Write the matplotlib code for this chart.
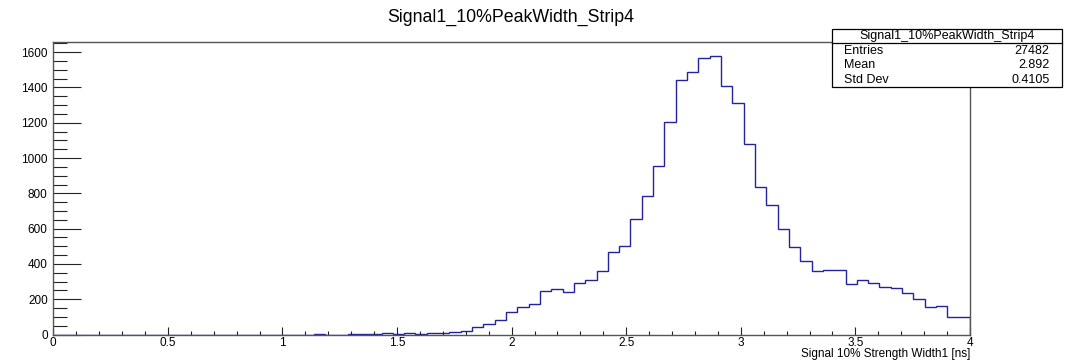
import numpy as np
import matplotlib
matplotlib.use("Agg")
import matplotlib.pyplot as plt
from matplotlib.patches import Rectangle
from matplotlib.lines import Line2D
from matplotlib.ticker import MultipleLocator

plt.rcParams['font.family'] = ['Liberation Sans', 'DejaVu Sans']

# Histogram definition: 81 bins on [0, 4]
n_bins = 81
x_min, x_max = 0.0, 4.0

# Bin contents (bins 0..80)
counts = [
    0, 0, 0, 0, 0, 0, 0, 0, 0, 0,
    0, 0, 0, 0, 0, 0, 0, 0, 0, 0,
    0, 0, 0, 3, 0, 0, 3, 3, 6, 7,
    3, 7, 5, 7, 9, 15, 21, 43, 62, 83,
    126, 158, 172, 245, 257, 243, 290, 309, 362, 470,
    501, 652, 784, 954, 1203, 1441, 1490, 1569, 1580, 1409,
    1309, 1082, 836, 732, 597, 499, 417, 360, 368, 365,
    287, 307, 292, 271, 262, 237, 200, 158, 162, 101,
    101,
]

hist_name = "Signal1_10%PeakWidth_Strip4"
x_title = "Signal 10% Strength Width1 [ns]"
stat_labels = ["Entries", "Mean", "Std Dev"]
stat_values = ["27482", "2.892", "0.4105"]

W, H = 1073, 363
fig = plt.figure(figsize=(W / 100, H / 100), dpi=100)

# frame position in pixels
px_l, px_r, px_t, px_b = 53.3, 970.0, 41.7, 334.6
ax = fig.add_axes([px_l / W, 1 - px_b / H, (px_r - px_l) / W, (px_b - px_t) / H])

edges = np.linspace(x_min, x_max, n_bins + 1)
ax.stairs(counts, edges, color='#23239c', lw=1.0, baseline=0)

ax.set_xlim(x_min, x_max)
ax.set_ylim(0, max(counts) * 1.05)

frame_col = '#555555'
for s in ax.spines.values():
    s.set_color(frame_col)
    s.set_linewidth(1.0)

ax.xaxis.set_major_locator(MultipleLocator(0.5))
ax.xaxis.set_minor_locator(MultipleLocator(0.1))
ax.yaxis.set_major_locator(MultipleLocator(200))
ax.yaxis.set_minor_locator(MultipleLocator(50))

ax.tick_params(axis='both', which='both', direction='in', colors='#222222',
               labelcolor='black', width=0.8, labelsize=8.5)
ax.tick_params(axis='y', which='major', length=20, pad=4)
ax.tick_params(axis='y', which='minor', length=10)
ax.tick_params(axis='x', which='major', length=6, pad=2)
ax.tick_params(axis='x', which='minor', length=3)
ax.tick_params(top=False, right=False, which='both')

ax.xaxis.set_major_formatter(plt.FuncFormatter(lambda v, p: f"{v:g}"))

# title
fig.text(511 / W, 1 - 21.5 / H, hist_name, ha='center', va='baseline', fontsize=12.8)

# x-axis title, right aligned at end of axis
fig.text(px_r / W, 1 - 354 / H, x_title, ha='right', va='center', fontsize=8.5)

# statistics box
bx0, bx1, by0, by1 = 832.3, 1061.7, 29.0, 87.3
fig.patches.append(Rectangle((bx0 / W, 1 - by1 / H), (bx1 - bx0) / W, (by1 - by0) / H,
                             transform=fig.transFigure, facecolor='white',
                             edgecolor='black', lw=0.9, zorder=5))
fig.lines.append(Line2D([bx0 / W, bx1 / W], [1 - 42.7 / H, 1 - 42.7 / H],
                        transform=fig.transFigure, color='black', lw=0.9, zorder=6))
fig.text((bx0 + bx1) / 2 / W, 1 - 35.5 / H, hist_name, ha='center', va='center',
         fontsize=9, zorder=7)
row_y = [50.7, 65.3, 80.2]
for lab, val, yy in zip(stat_labels, stat_values, row_y):
    fig.text(844 / W, 1 - yy / H, lab, ha='left', va='center', fontsize=9, zorder=7)
    fig.text(1049.3 / W, 1 - yy / H, val, ha='right', va='center', fontsize=9, zorder=7)

fig.savefig("out.png", dpi=100, facecolor='white')
